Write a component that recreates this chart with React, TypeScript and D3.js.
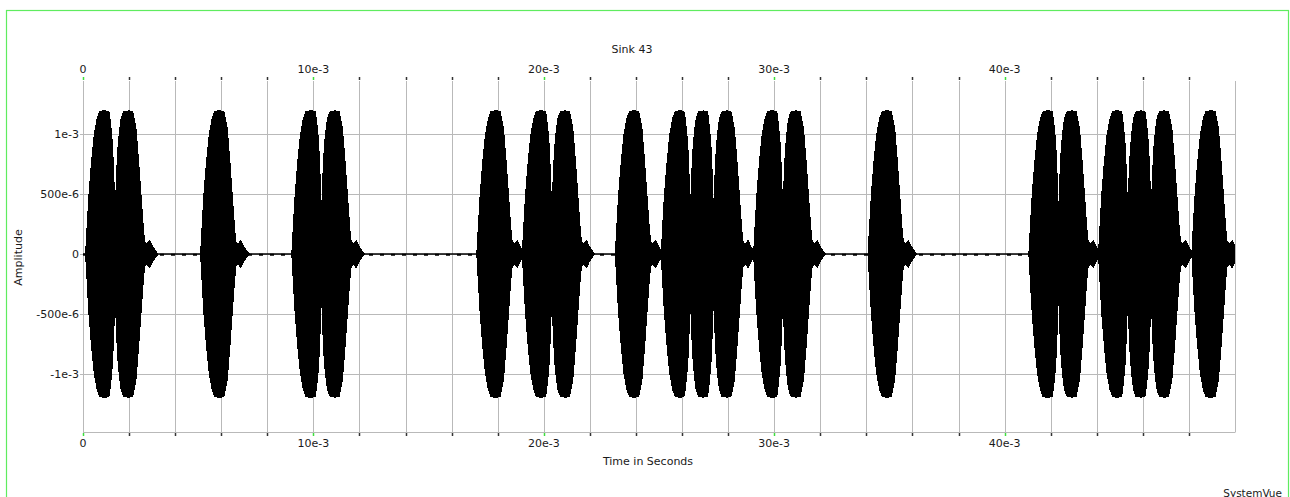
import React, { useEffect, useRef } from 'react';
import * as d3 from 'd3';

// start of each burst, in ms
const burstStarts = [0.09, 1.12, 5.08, 9.04, 10.08, 17.07, 19.04, 20.08, 23.08, 25.07, 26.07, 27.09, 29.08, 30.09, 34.05, 41.03, 42.07, 44.05, 45.06, 46.08, 48.1];

// envelope of one isolated burst: offset from its start (ms) -> amplitude (x 1e-3)
const pulseOffsets = [0, 0.145, 0.26, 0.376, 0.506, 0.62, 0.84, 1.056, 1.2, 1.317, 1.418, 1.52, 1.577, 1.65, 1.78, 1.92, 2.07, 2.17];
const pulseAmps = [0, 0.494, 0.77, 0.994, 1.133, 1.19, 1.2, 1.19, 1.05, 0.77, 0.494, 0.217, 0.105, 0.09, 0.12, 0.064, 0.022, 0];

const xTickVals = [0, 10e-3, 20e-3, 30e-3, 40e-3];
const xTickLabels = ['0', '10e-3', '20e-3', '30e-3', '40e-3'];
const yTickVals = [1e-3, 500e-6, 0, -500e-6, -1e-3];
const yTickLabels = ['1e-3', '500e-6', '0', '-500e-6', '-1e-3'];

// overlapping neighbours partly cancel each other (the V notches between them)
const NOTCH = 0.7;

const W = 1290;
const H = 497;
const FONT = '"DejaVu Sans", Verdana, sans-serif';
const GRID = '#b9b9b9';
const GREEN = '#5fec5f';

const App: React.FC = () => {
  const ref = useRef<SVGSVGElement>(null);

  useEffect(() => {
    if (!ref.current) return;
    const svg = d3.select(ref.current);
    svg.selectAll('*').remove();

    const left = 83, right = 1235, top = 81, bottom = 432;
    const x = d3.scaleLinear().domain([0, 0.05]).range([left, right]);
    const y = d3.scaleLinear().domain([-1.483e-3, 1.442e-3]).range([bottom, top]);
    const pulse = d3.scaleLinear().domain(pulseOffsets).range(pulseAmps).clamp(true);
    const pulseLen = pulseOffsets[pulseOffsets.length - 1];

    const env = (tMs: number) => {
      const a = burstStarts
        .map(s => (tMs - s < 0 || tMs - s > pulseLen ? 0 : pulse(tMs - s)))
        .sort((p, q) => q - p);
      const v = a[0] * a[0] - NOTCH * a[1] * a[1];
      return Math.sqrt(Math.max(v, 0)) * 1e-3;
    };

    // outer green frame
    svg.append('rect')
      .attr('x', 6.5).attr('y', 10.5)
      .attr('width', 1282).attr('height', 520)
      .attr('fill', 'none').attr('stroke', GREEN).attr('stroke-width', 1.2);

    const gridTicks = d3.range(0, 0.0501, 0.002);

    // vertical grid
    svg.append('g').selectAll('line').data(gridTicks).join('line')
      .attr('x1', d => Math.round(x(d)) + 0.5).attr('x2', d => Math.round(x(d)) + 0.5)
      .attr('y1', top).attr('y2', bottom)
      .attr('stroke', GRID).attr('stroke-width', 1);

    // horizontal grid
    svg.append('g').selectAll('line').data(yTickVals).join('line')
      .attr('x1', left - 3).attr('x2', right)
      .attr('y1', d => Math.round(y(d)) + 0.5).attr('y2', d => Math.round(y(d)) + 0.5)
      .attr('stroke', GRID).attr('stroke-width', 1);

    // bottom frame
    svg.append('line')
      .attr('x1', left).attr('x2', right + 0.5)
      .attr('y1', bottom + 0.5).attr('y2', bottom + 0.5)
      .attr('stroke', GRID).attr('stroke-width', 1);

    // waveform
    const samples = d3.range(0, 50.0001, 0.01);
    const area = d3.area<number>()
      .x(t => x(t / 1000))
      .y0(t => y(-env(t)))
      .y1(t => y(env(t)));

    svg.append('line')
      .attr('x1', x(0)).attr('x2', x(0.05))
      .attr('y1', y(0)).attr('y2', y(0))
      .attr('stroke', '#000').attr('stroke-width', 1.4);
    svg.append('line')
      .attr('x1', x(0)).attr('x2', x(0.05))
      .attr('y1', y(0) + 0.8).attr('y2', y(0) + 0.8)
      .attr('stroke', '#000').attr('stroke-width', 2)
      .attr('stroke-dasharray', '4 7');

    svg.append('path')
      .datum(samples)
      .attr('d', area)
      .attr('fill', '#000')
      .attr('shape-rendering', 'crispEdges');

    // tick marks top and bottom
    const tickTs = gridTicks.filter(d => d < 0.0499);
    const isLabelled = (d: number) => xTickVals.some(v => Math.abs(v - d) < 1e-6);
    [[top - 4, top - 1], [bottom + 1, bottom + 4]].forEach(([a, b]) => {
      svg.append('g').selectAll('line').data(tickTs).join('line')
        .attr('x1', d => Math.round(x(d)) + 0.5).attr('x2', d => Math.round(x(d)) + 0.5)
        .attr('y1', a).attr('y2', b)
        .attr('stroke', d => (isLabelled(d) ? '#3ce03c' : '#333'))
        .attr('stroke-width', 1.5);
    });

    const txt = (g: d3.Selection<any, any, any, any>) =>
      g.attr('font-family', FONT).attr('font-size', 11).attr('fill', '#1a1a1a');

    // x tick labels, top and bottom
    [72.5, 447].forEach(by => {
      svg.append('g').selectAll('text').data(xTickVals).join('text')
        .call(txt)
        .attr('x', d => x(d)).attr('y', by)
        .attr('text-anchor', 'middle')
        .text((d, i) => xTickLabels[i]);
    });

    // y tick labels
    svg.append('g').selectAll('text').data(yTickVals).join('text')
      .call(txt)
      .attr('x', 79).attr('y', d => y(d) + 4)
      .attr('text-anchor', 'end')
      .text((d, i) => yTickLabels[i]);

    svg.append('text').call(txt)
      .attr('x', 632).attr('y', 53)
      .attr('text-anchor', 'middle')
      .text('Sink 43');

    svg.append('text').call(txt)
      .attr('x', 648).attr('y', 465)
      .attr('text-anchor', 'middle')
      .text('Time in Seconds');

    svg.append('text').call(txt)
      .attr('transform', `translate(22,${(top + bottom) / 2 + 1}) rotate(-90)`)
      .attr('text-anchor', 'middle')
      .text('Amplitude');

    svg.append('text').call(txt)
      .attr('x', 1282).attr('y', 496.5)
      .attr('text-anchor', 'end')
      .attr('font-size', 10.5)
      .text('SystemVue');
  }, []);

  return (
    <svg ref={ref} width={W} height={H}
      style={{ position: 'absolute', left: 0, top: 0, background: '#fff' }} />
  );
};

export default App;
